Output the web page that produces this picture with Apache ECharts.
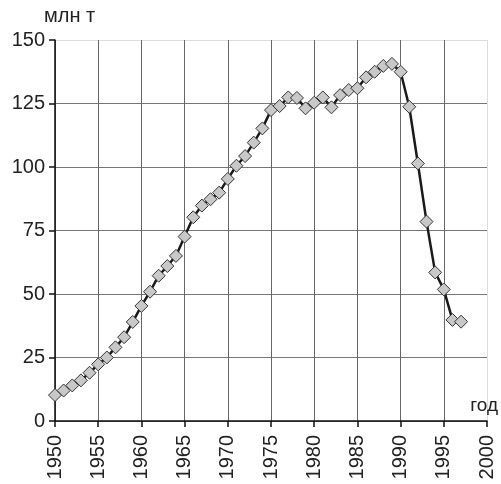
<!DOCTYPE html>
<html>
<head>
<meta charset="utf-8">
<script src="https://cdn.jsdelivr.net/npm/echarts@6/dist/echarts.min.js"></script>
<style>html,body{margin:0;padding:0;background:#fff}#c{width:501px;height:484px}</style>
</head>
<body>
<div id="c"></div>
<script>
var years = [1950,1951,1952,1953,1954,1955,1956,1957,1958,1959,1960,1961,1962,1963,1964,1965,1966,1967,1968,1969,1970,1971,1972,1973,1974,1975,1976,1977,1978,1979,1980,1981,1982,1983,1984,1985,1986,1987,1988,1989,1990,1991,1992,1993,1994,1995,1996,1997];
var values = [10.2,12,14,16,19,22.3,25,29,33,39,45.3,50.9,57.2,61,65,72.6,80.2,84.8,87.3,89.9,95.3,100.5,104.3,109.6,115.2,122.4,124,127.4,127.2,123.1,125.3,127.4,123.5,128.3,130.3,131,135.3,137.5,139.8,140.6,137.5,123.7,101.4,78.5,58.5,51.8,39.8,39.1];
var yUnit = 'млн т';
var xUnit = 'год';

var data = years.map(function(y, i){ return [y, values[i]]; });
var chart = echarts.init(document.getElementById('c'), null, {renderer:'canvas'});
var font = 'Liberation Sans, Arial, sans-serif';
chart.setOption({
  animation: false,
  grid: {left: 55, right: 14, top: 40, bottom: 63, containLabel: false},
  xAxis: {
    type: 'value', min: 1950, max: 2000, interval: 5,
    name: xUnit, nameLocation: 'end', nameGap: 11,
    nameTextStyle: {fontFamily: font, fontSize: 19, color: '#222', align: 'right', verticalAlign: 'bottom', padding: [0,0,6,0]},
    axisLine: {show: true, onZero: false, lineStyle: {color: '#111', width: 1.5}},
    axisTick: {show: true, length: 6, lineStyle: {color: '#111', width: 1.5}},
    axisLabel: {rotate: 90, margin: 14, fontFamily: font, fontSize: 20, color: '#222', showMinLabel: true, showMaxLabel: true,
      formatter: function(v){ return String(v); }},
    splitLine: {show: true, lineStyle: {color: ['#666','#666','#666','#666','#666','#666','#666','#666','#666','#666','#ddd'], width: 1}}
  },
  yAxis: {
    type: 'value', min: 0, max: 150, interval: 25,
    name: yUnit, nameLocation: 'end', nameGap: 14,
    nameTextStyle: {fontFamily: font, fontSize: 20, color: '#222', align: 'left', padding: [0,0,0,-11]},
    axisLine: {show: true, lineStyle: {color: '#111', width: 1.5}},
    axisTick: {show: true, length: 6, lineStyle: {color: '#111', width: 1.5}},
    axisLabel: {margin: 10, fontFamily: font, fontSize: 20, color: '#222'},
    splitLine: {show: true, lineStyle: {color: ['#777','#777','#777','#777','#777','#777','#ddd'], width: 1}}
  },
  series: [{
    type: 'line', data: data,
    symbol: 'diamond', symbolSize: 13,
    lineStyle: {color: '#1a1a1a', width: 2.5},
    itemStyle: {color: '#c8c8c8', borderColor: '#333', borderWidth: 1}
  }]
});
</script>
</body>
</html>
